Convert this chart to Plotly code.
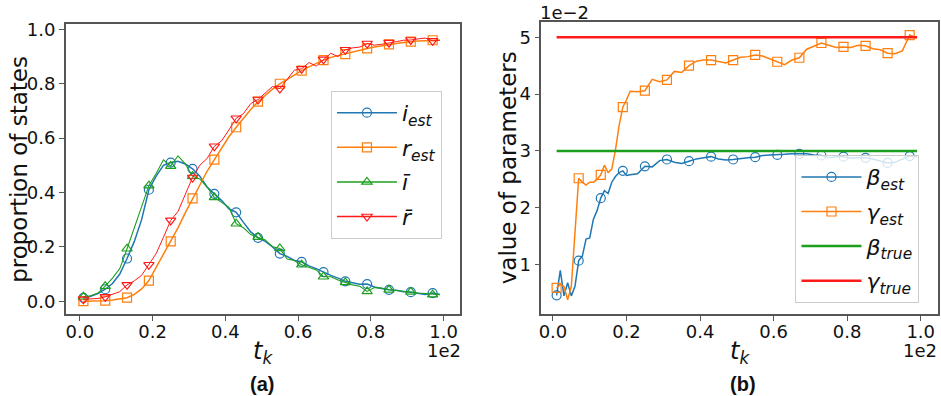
import plotly.graph_objects as go

# ---------------- data: panel (a) ----------------
t_a = list(range(1, 100, 2))  # time steps (x axis shown in units of 1e2)

i_est = [0.012, 0.018, 0.028, 0.044, 0.065, 0.10, 0.157, 0.22, 0.30, 0.41,
         0.46, 0.50, 0.51, 0.515, 0.505, 0.487, 0.46, 0.42, 0.395, 0.37,
         0.34, 0.327, 0.29, 0.255, 0.233, 0.22, 0.20, 0.175, 0.165, 0.15,
         0.145, 0.13, 0.12, 0.107, 0.095, 0.085, 0.073, 0.068, 0.062, 0.063,
         0.052, 0.047, 0.042, 0.040, 0.035, 0.033, 0.028, 0.025, 0.030, 0.025]

r_est = [0.0, 0.0, 0.0, 0.002, 0.004, 0.008, 0.013, 0.025, 0.045, 0.076,
         0.125, 0.172, 0.22, 0.27, 0.325, 0.378, 0.43, 0.478, 0.521, 0.565,
         0.605, 0.64, 0.674, 0.705, 0.734, 0.758, 0.78, 0.80, 0.817, 0.833,
         0.848, 0.862, 0.875, 0.887, 0.897, 0.904, 0.909, 0.917, 0.924, 0.93,
         0.935, 0.94, 0.945, 0.948, 0.952, 0.955, 0.957, 0.958, 0.96, 0.96]

i_bar = [0.016, 0.02, 0.03, 0.055, 0.085, 0.12, 0.193, 0.27, 0.35, 0.425,
         0.47, 0.52, 0.497, 0.535, 0.505, 0.46, 0.45, 0.42, 0.382, 0.365,
         0.345, 0.285, 0.27, 0.245, 0.236, 0.225, 0.20, 0.194, 0.155, 0.15,
         0.134, 0.125, 0.115, 0.09, 0.09, 0.078, 0.069, 0.06, 0.055, 0.036,
         0.05, 0.048, 0.042, 0.04, 0.038, 0.034, 0.03, 0.028, 0.024, 0.024]

r_bar = [0.007, 0.008, 0.01, 0.016, 0.025, 0.035, 0.06, 0.075, 0.095, 0.134,
         0.175, 0.235, 0.297, 0.33, 0.395, 0.455, 0.50, 0.525, 0.57, 0.59,
         0.63, 0.673, 0.69, 0.727, 0.742, 0.765, 0.79, 0.782, 0.818, 0.85,
         0.855, 0.878, 0.865, 0.89, 0.912, 0.90, 0.925, 0.932, 0.935, 0.948,
         0.942, 0.945, 0.951, 0.955, 0.96, 0.961, 0.965, 0.968, 0.958, 0.96]

# ---------------- data: panel (b) (values in units of 1e-2) ----------------
t_b = list(range(1, 22)) + list(range(23, 100, 2))

beta_est = [0.46, 0.90, 0.45, 0.68, 0.45, 0.62, 1.07, 1.15, 1.45, 1.47,
            1.80, 1.95, 2.17, 2.30, 2.25, 2.45, 2.55, 2.62, 2.65, 2.57,
            2.58, 2.60, 2.73, 2.72, 2.83, 2.85, 2.80, 2.78, 2.82, 2.86,
            2.88, 2.90, 2.86, 2.84, 2.85, 2.87, 2.88, 2.89, 2.92, 2.93,
            2.93, 2.94, 2.95, 2.95, 2.95, 2.93, 2.92, 2.88, 2.90, 2.90,
            2.87, 2.88, 2.88, 2.86, 2.82, 2.79, 2.80, 2.85, 2.91, 2.90]

gamma_est = [0.59, 0.65, 0.62, 0.38, 0.62, 1.55, 2.52, 2.45, 2.40, 2.45,
             2.45, 2.50, 2.58, 2.75, 2.62, 2.68, 3.02, 3.45, 3.77, 3.90,
             4.05, 4.04, 4.06, 4.26, 4.22, 4.25, 4.40, 4.38, 4.50, 4.58,
             4.60, 4.60, 4.58, 4.55, 4.60, 4.65, 4.66, 4.69, 4.67, 4.62,
             4.57, 4.52, 4.60, 4.64, 4.79, 4.84, 4.90, 4.86, 4.82, 4.83,
             4.82, 4.86, 4.85, 4.80, 4.78, 4.72, 4.71, 4.76, 5.04, 4.99]

beta_true = 3.0
gamma_true = 5.0

MARK_EVERY = 6
BLUE, ORANGE, GREEN, RED = "#1f77b4", "#ff7f0e", "#1ca01c", "#ff1a1a"
FONT = "DejaVu Sans"
W, H = 941, 396


def px(x):
    return x / W


def py(y):
    return 1 - y / H


fig = go.Figure()


def add_series(t, v, color, symbol, xa, ya, lw=1.5, msize=9):
    mt = [a for a in t if (a - 1) % MARK_EVERY == 0]
    mv = [b for a, b in zip(t, v) if (a - 1) % MARK_EVERY == 0]
    fig.add_trace(go.Scatter(x=t, y=v, mode="lines", line=dict(color=color, width=lw),
                             showlegend=False, xaxis=xa, yaxis=ya, hoverinfo="skip"))
    fig.add_trace(go.Scatter(x=mt, y=mv, mode="markers",
                             marker=dict(symbol=symbol, size=msize, color=color,
                                         line=dict(color=color, width=1.2)),
                             showlegend=False, xaxis=xa, yaxis=ya))


add_series(t_a, i_est, BLUE, "circle-open", "x", "y")
add_series(t_a, r_est, ORANGE, "square-open", "x", "y")
add_series(t_a, i_bar, GREEN, "triangle-up-open", "x", "y", lw=1.1)
add_series(t_a, r_bar, RED, "triangle-down-open", "x", "y", lw=1.0)

add_series(t_b, beta_est, BLUE, "circle-open", "x2", "y2")
add_series(t_b, gamma_est, ORANGE, "square-open", "x2", "y2")
fig.add_trace(go.Scatter(x=[t_b[0], t_b[-1]], y=[beta_true, beta_true], mode="lines",
                         line=dict(color=GREEN, width=2.5), showlegend=False,
                         xaxis="x2", yaxis="y2"))
fig.add_trace(go.Scatter(x=[t_b[0], t_b[-1]], y=[gamma_true, gamma_true], mode="lines",
                         line=dict(color=RED, width=2.5), showlegend=False,
                         xaxis="x2", yaxis="y2"))

# legend-only entries
_n = [0]


def leg(name, color, symbol, legend, lw=1.5, mode="lines+markers"):
    _n[0] += 1
    fig.add_trace(go.Scatter(x=[None], y=[None], mode=mode, name=name,
                             line=dict(color=color, width=lw),
                             marker=dict(symbol=symbol, size=9, color=color,
                                         line=dict(color=color, width=1.2)),
                             legend=legend, legendgroup="g%d" % _n[0], showlegend=True))


leg("<i>i</i><sub><i>est</i></sub>", BLUE, "circle-open", "legend")
leg("<i>r</i><sub><i>est</i></sub>", ORANGE, "square-open", "legend")
leg("<i>ī</i>", GREEN, "triangle-up-open", "legend")
leg("<i>r̄</i>", RED, "triangle-down-open", "legend")
leg("<i>β</i><sub><i>est</i></sub>", BLUE, "circle-open", "legend2")
leg("<i>γ</i><sub><i>est</i></sub>", ORANGE, "square-open", "legend2")
leg("<i>β</i><sub><i>true</i></sub>", GREEN, None, "legend2", lw=2.5, mode="lines")
leg("<i>γ</i><sub><i>true</i></sub>", RED, None, "legend2", lw=2.5, mode="lines")

axis_common = dict(showline=True, linecolor="#555", linewidth=1.5, mirror=True,
                   ticks="outside", ticklen=5, tickcolor="#555", tickwidth=1.2,
                   showgrid=False, zeroline=False,
                   tickfont=dict(family=FONT, size=18, color="#111"))

xt = [0, 20, 40, 60, 80, 100]
xtt = ["0.0", "0.2", "0.4", "0.6", "0.8", "1.0"]

legend_common = dict(xanchor="left", yanchor="top", bgcolor="rgba(255,255,255,0.8)",
                     bordercolor="#ccc", borderwidth=1, tracegroupgap=3,
                     font=dict(family=FONT, size=22, color="#111"), itemwidth=60)

fig.update_layout(
    width=W, height=H, margin=dict(l=0, r=0, t=0, b=0),
    paper_bgcolor="white", plot_bgcolor="white",
    font=dict(family=FONT, color="#111"),
    xaxis=dict(domain=[px(63), px(458)], range=[-3.84, 104.4], tickvals=xt, ticktext=xtt,
               anchor="y", ticklabelstandoff=-4, **axis_common),
    yaxis=dict(domain=[py(313), py(19)], range=[-0.0473, 1.0207],
               tickvals=[0, 0.2, 0.4, 0.6, 0.8, 1.0],
               ticktext=["0.0", "0.2", "0.4", "0.6", "0.8", "1.0"],
               anchor="x", **axis_common),
    xaxis2=dict(domain=[px(540), px(938)], range=[-3.17, 104.7], tickvals=xt, ticktext=xtt,
                anchor="y2", ticklabelstandoff=-4, **axis_common),
    yaxis2=dict(domain=[py(313), py(17)], range=[0.13, 5.273], tickvals=[1, 2, 3, 4, 5],
                anchor="x2", **axis_common),
    legend=dict(x=px(329), y=py(87), **legend_common),
    legend2=dict(x=px(795), y=py(152), **legend_common),
)

ann = [
    dict(text="proportion of states", x=px(16), y=py(166), textangle=-90, size=23),
    dict(text="value of parameters", x=px(507), y=py(165), textangle=-90, size=23),
    dict(text="<i>t</i><sub><i>k</i></sub>", x=px(261), y=py(352), size=24),
    dict(text="<i>t</i><sub><i>k</i></sub>", x=px(739), y=py(352), size=24),
    dict(text="1e2", x=px(442), y=py(350), size=18),
    dict(text="1e2", x=px(920), y=py(350), size=18),
    dict(text="1e−2", x=px(563), y=py(8), size=18),
]
for a in ann:
    fig.add_annotation(text=a["text"], x=a["x"], y=a["y"], xref="paper", yref="paper",
                       showarrow=False, textangle=a.get("textangle", 0),
                       xanchor="center", yanchor="middle",
                       font=dict(family=FONT, size=a["size"], color="#111"))
for lab, xc in (("(a)", 260), ("(b)", 742)):
    fig.add_annotation(text="<b>" + lab + "</b>", x=px(xc), y=py(384), xref="paper", yref="paper",
                       showarrow=False, xanchor="center", yanchor="middle",
                       font=dict(family="Liberation Sans", size=20, color="#111"))

fig.write_html("out.html", config={"displayModeBar": False},
               post_script="document.body.style.margin='0';document.body.style.overflow='hidden';")
